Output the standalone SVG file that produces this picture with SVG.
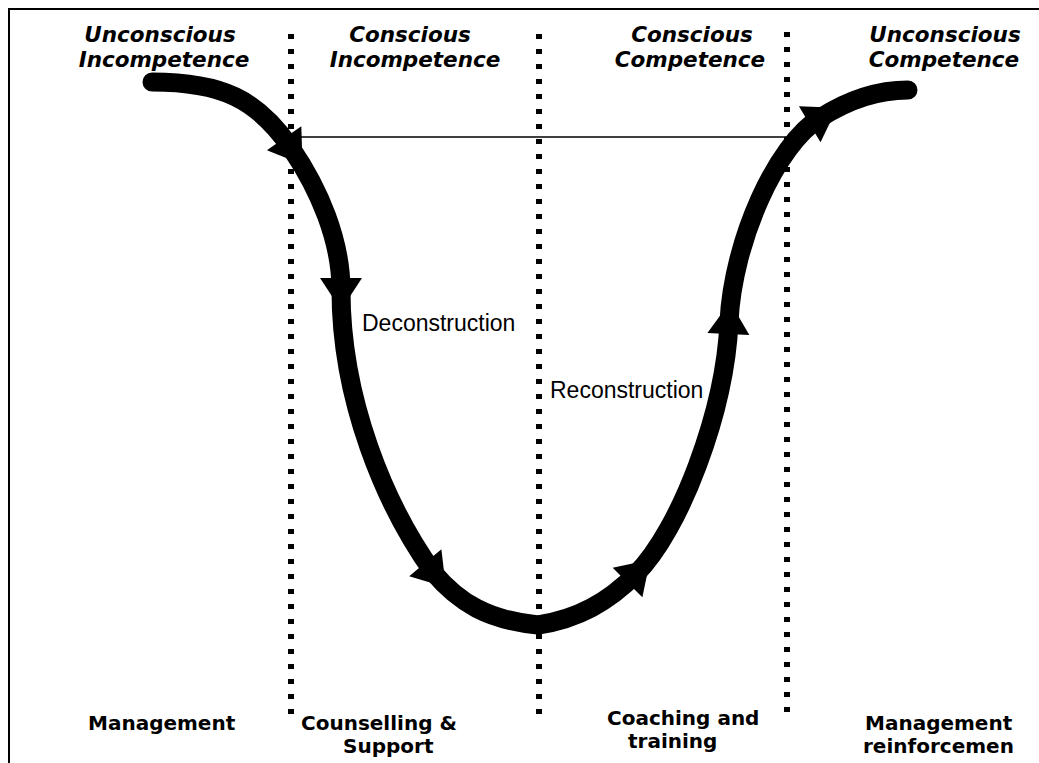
<svg xmlns="http://www.w3.org/2000/svg" xmlns:xlink="http://www.w3.org/1999/xlink" width="1039" height="763" viewBox="0 0 1039 763">
<style>
.frame{fill:none;stroke:#000;stroke-width:2}
.dots{fill:none;stroke:#000;stroke-width:6;stroke-dasharray:5 10}
.thin{fill:none;stroke:#000;stroke-width:1.5}
.curve{fill:none;stroke:#000;stroke-width:19;stroke-linecap:round;stroke-linejoin:round}
.ah{fill:#000;stroke:none}
.stage{font-family:"DejaVu Sans","Verdana",sans-serif;font-weight:bold;font-style:italic;font-size:21.5px;fill:#000;text-anchor:middle}
.phase{font-family:"Liberation Sans",Arial,sans-serif;font-size:23px;fill:#000}
.role{font-family:"DejaVu Sans","Verdana",sans-serif;font-weight:bold;font-size:20px;fill:#000}
</style>
<defs>
<path id="head" class="ah" d="M-12,-21 L20,0 L-12,21 Z"/>
</defs>
<rect width="1039" height="763" fill="#fff"/>
<path class="frame" d="M9,763 V9 H1039"/>
<g id="guides">
<line class="dots" x1="291" y1="34" x2="291" y2="714"/>
<line class="dots" x1="539" y1="34" x2="539" y2="714"/>
<line class="dots" x1="787" y1="32" x2="787" y2="712"/>
<line class="thin" x1="291" y1="137" x2="787" y2="137"/>
</g>
<g id="connectors">
<path class="curve" d="M152,82 C222,82 257,99 291,148 C319,189 341,240 341,290 C341,400 385,505 433,572 C459,603 488,620 538,625 C578,619 608,602 636,574 C680,530 725,412 729,322 C733,240 777,144 820,118 C845,102 875,90 908,90"/>
<use xlink:href="#head" href="#head" transform="translate(291,148) rotate(55)"/>
<use xlink:href="#head" href="#head" transform="translate(341,290) rotate(90)"/>
<use xlink:href="#head" href="#head" transform="translate(433,572) rotate(50)"/>
<use xlink:href="#head" href="#head" transform="translate(636,574) rotate(-45)"/>
<use xlink:href="#head" href="#head" transform="translate(729,322) rotate(-87)"/>
<use xlink:href="#head" href="#head" transform="translate(820,118) rotate(-31)"/>
</g>
<g id="stage-unconscious-incompetence">
<text class="stage" x="160" y="42">Unconscious</text>
<text class="stage" x="164" y="67">Incompetence</text>
</g>
<g id="stage-conscious-incompetence">
<text class="stage" x="410" y="42">Conscious</text>
<text class="stage" x="415" y="67">Incompetence</text>
</g>
<g id="stage-conscious-competence">
<text class="stage" x="692" y="42">Conscious</text>
<text class="stage" x="690" y="67">Competence</text>
</g>
<g id="stage-unconscious-competence">
<text class="stage" x="945" y="42">Unconscious</text>
<text class="stage" x="944" y="67">Competence</text>
</g>
<g id="phase-deconstruction">
<text class="phase" x="362" y="331">Deconstruction</text>
</g>
<g id="phase-reconstruction">
<text class="phase" x="550" y="398">Reconstruction</text>
</g>
<g id="role-management">
<text class="role" x="88" y="730">Management</text>
</g>
<g id="role-counselling">
<text class="role" x="301" y="730">Counselling &amp;</text>
<text class="role" x="343" y="753">Support</text>
</g>
<g id="role-coaching">
<text class="role" x="607" y="725">Coaching and</text>
<text class="role" x="628" y="748">training</text>
</g>
<g id="role-reinforcement">
<text class="role" x="865" y="730">Management</text>
<text class="role" x="863" y="753">reinforcemen</text>
</g>
</svg>
